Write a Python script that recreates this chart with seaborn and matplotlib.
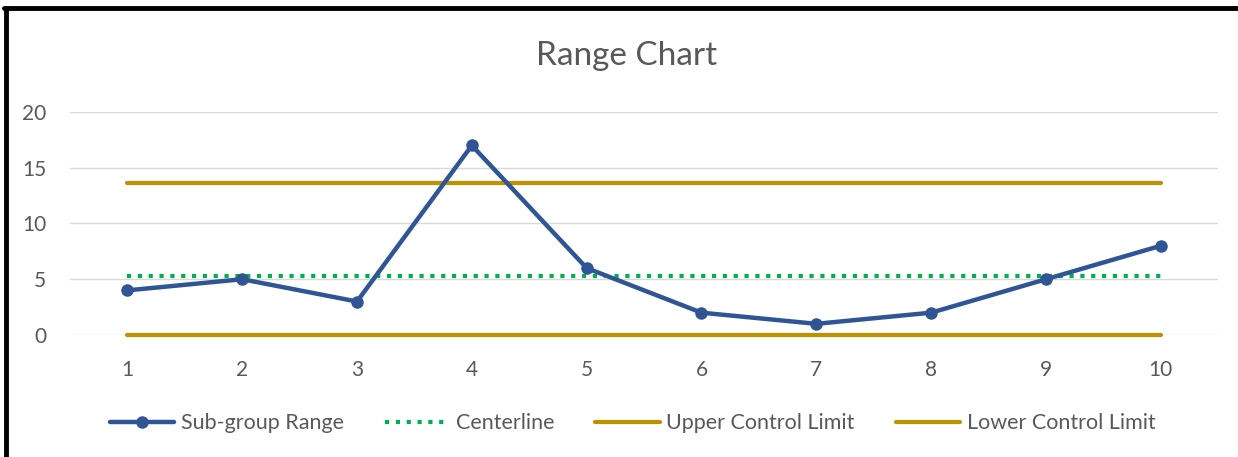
import matplotlib
matplotlib.use("Agg")
import matplotlib.pyplot as plt
import seaborn as sns
import pandas as pd
from matplotlib.lines import Line2D

# sub-group ranges
subgroups = [1, 2, 3, 4, 5, 6, 7, 8, 9, 10]
ranges = [4, 5, 3, 17, 6, 2, 1, 2, 5, 8]
centerline = 5.3
ucl = 13.64
lcl = 0

df = pd.DataFrame({"Subgroup": subgroups, "Range": ranges})
df["Centerline"] = centerline
df["UCL"] = ucl
df["LCL"] = lcl

sns.set_style("white")
plt.rcParams["font.family"] = ["Lato", "DejaVu Sans"]

fig = plt.figure(figsize=(12.38, 4.57), dpi=100)
ax = fig.add_axes([0.0565, 0.267, 0.9275, 0.488])

ax.grid(axis="y", color="#D9D9D9", linewidth=1)
ax.set_axisbelow(True)

sns.lineplot(data=df, x="Subgroup", y="Centerline", ax=ax, color="#00B050",
             linewidth=3, linestyle=(0, (1, 1.6)), label="Centerline", zorder=2)
sns.lineplot(data=df, x="Subgroup", y="UCL", ax=ax, color="#BF9000",
             linewidth=3, label="Upper Control Limit", zorder=2)
sns.lineplot(data=df, x="Subgroup", y="LCL", ax=ax, color="#BF9000",
             linewidth=3, label="Lower Control Limit", zorder=2, clip_on=False)
sns.lineplot(data=df, x="Subgroup", y="Range", ax=ax, color="#2F5597",
             linewidth=3.2, marker="o", markersize=9, markeredgewidth=0,
             label="Sub-group Range", zorder=3)

ax.set_xlim(0.5, 10.5)
ax.set_ylim(0, 20)
ax.set_xticks(subgroups)
ax.set_yticks([0, 5, 10, 15, 20])
ax.set_xlabel("")
ax.set_ylabel("")
for s in ax.spines.values():
    s.set_visible(False)
ax.tick_params(axis="both", length=0, labelsize=15, labelcolor="#595959")
ax.tick_params(axis="x", pad=18)
ax.tick_params(axis="y", pad=17)

fig.text(0.506, 0.878, "Range Chart", ha="center", va="center",
         fontsize=24, color="#595959")

handles, labels = ax.get_legend_handles_labels()
order = [3, 0, 1, 2]
leg = ax.legend([handles[i] for i in order], [labels[i] for i in order],
                loc="center", bbox_to_anchor=(0.49, -0.395), ncol=4,
                frameon=False, fontsize=15.5, handlelength=3.0,
                columnspacing=1.9, handletextpad=0.3)
for t in leg.get_texts():
    t.set_color("#595959")

# dark frame on top and left like the screenshot
fig.add_artist(Line2D([0.003, 1.0], [0.982, 0.982], transform=fig.transFigure,
                      color="black", linewidth=3.5))
fig.add_artist(Line2D([0.0048, 0.0048], [0.0, 0.982], transform=fig.transFigure,
                      color="black", linewidth=3.5))

fig.savefig("out.png", dpi=100)
